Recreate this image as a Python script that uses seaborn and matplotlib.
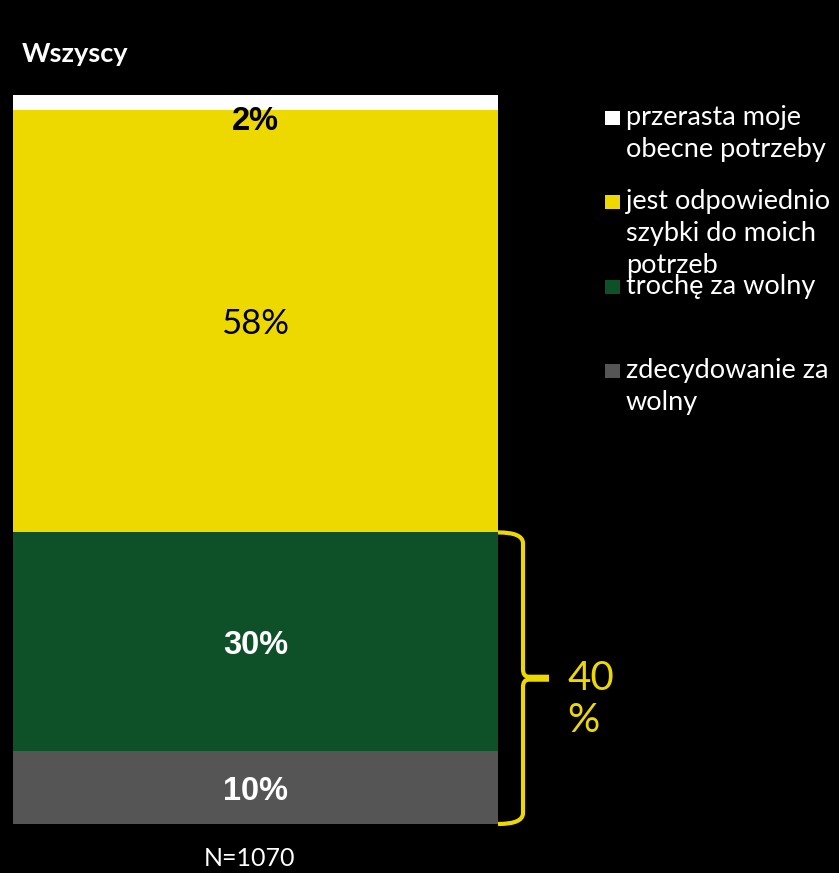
import numpy as np
import pandas as pd
import seaborn as sns
import matplotlib.pyplot as plt
from matplotlib.path import Path
from matplotlib.patches import PathPatch, Rectangle

# Data (bottom to top)
categories = ["zdecydowanie za\nwolny", "trochę za wolny",
              "jest odpowiednio\nszybki do moich\npotrzeb", "przerasta moje\nobecne potrzeby"]
values = [10, 30, 58, 2]
colors = ["#555555", "#0E5129", "#EDD900", "#FFFFFF"]
label_colors = ["white", "white", "black", "black"]
label_bold = [True, True, False, True]
group = "Wszyscy"
n_label = "N=1070"

sns.set_theme(style="white")
plt.rcParams["font.family"] = ["Lato", "DejaVu Sans"]

fig = plt.figure(figsize=(8.39, 8.73), dpi=100, facecolor="black")
ax = fig.add_axes([13 / 839, 49 / 873, 485 / 839, 729 / 873])
ax.set_facecolor("black")

cum = np.cumsum(values)
# draw stacked bars from the tallest cumulative down
for i in range(len(values) - 1, -1, -1):
    df = pd.DataFrame({"g": [group], "v": [cum[i]]})
    sns.barplot(data=df, x="g", y="v", color=colors[i], saturation=1,
                width=1, ax=ax, linewidth=0)

ax.set_xlim(-0.5, 0.5)
ax.set_ylim(0, 100)
ax.set_axis_off()

# segment labels
for i, v in enumerate(values):
    mid = cum[i] - v / 2
    if v < 5:
        mid = cum[i] - v - 1.2
    if label_bold[i]:
        ax.text(0, mid, f"{v}%", ha="center", va="center_baseline", fontsize=23.5,
                fontweight="bold", color=label_colors[i],
                family=["Liberation Sans", "DejaVu Sans"])
    else:
        ax.text(0, mid, f"{v}%", ha="center", va="center_baseline", fontsize=25,
                color=label_colors[i])

# bracket over the two "too slow" segments
low = values[0] + values[1]
x0, xb, xt = 0.5, 0.5 + 25 / 485, 0.5 + 51 / 485
mid = low / 2
verts = [(x0, low), (xb, low), (xb, low - 1.5),
         (xb, mid + 1.2), (xb, mid + 0.2), (xb + 0.012, mid + 0.2),
         (xt, mid + 0.2), (xt, mid - 0.2), (xb + 0.012, mid - 0.2),
         (xb, mid - 0.2), (xb, mid - 1.2),
         (xb, 1.5), (xb, 0), (x0, 0)]
codes = [Path.MOVETO, Path.CURVE3, Path.CURVE3,
         Path.LINETO, Path.CURVE3, Path.CURVE3,
         Path.LINETO, Path.MOVETO, Path.LINETO,
         Path.CURVE3, Path.CURVE3,
         Path.LINETO, Path.CURVE3, Path.CURVE3]
ax.add_patch(PathPatch(Path(verts, codes), facecolor="none", edgecolor="#EDD900",
                       lw=3, clip_on=False, capstyle="butt"))
ax.text(xt + 0.038, mid - 2.9, f"{low}\n%", ha="left", va="center", fontsize=29,
        color="#EDD900", linespacing=1.18, clip_on=False)

# title and sample size
fig.text(22 / 839, 1 - 52 / 873, group, ha="left", va="center_baseline", fontsize=19.5,
         fontweight="bold", color="white")
fig.text(250 / 839, 1 - 857 / 873, n_label, ha="center", va="center_baseline", fontsize=18,
         color="white")

# legend (top to bottom), each text line placed 32 px apart
leg_y = [118, 202, 287, 371]
for k, i in enumerate(range(len(values) - 1, -1, -1)):
    y = 1 - leg_y[k] / 873
    fig.patches.append(Rectangle((605 / 839, y - 7 / 873), 15 / 839, 14 / 873,
                                 transform=fig.transFigure, facecolor=colors[i],
                                 edgecolor="none"))
    for j, line in enumerate(categories[i].split("\n")):
        fig.text(626 / 839, y - (7 + 32 * j) / 873, line, ha="left", va="baseline",
                 fontsize=19.5, color="white")

fig.savefig("out.png", dpi=100, facecolor="black")
